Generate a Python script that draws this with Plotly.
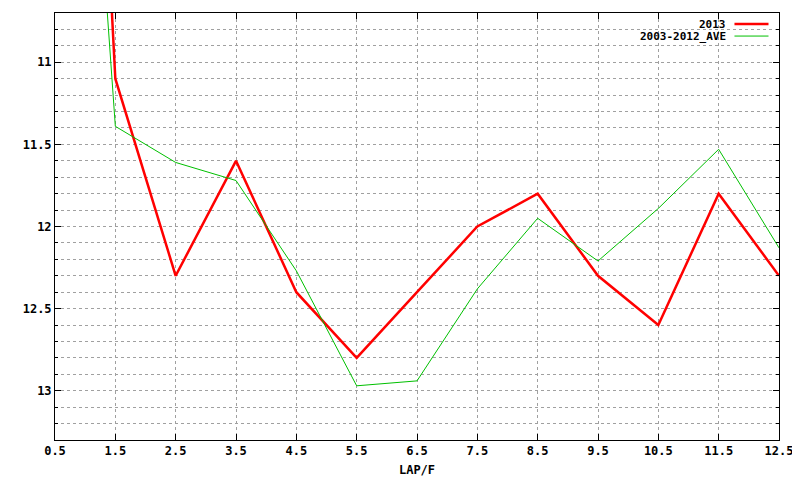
import plotly.graph_objects as go

laps = [0.5, 1.5, 2.5, 3.5, 4.5, 5.5, 6.5, 7.5, 8.5, 9.5, 10.5, 11.5, 12.5]
series_2013 = [4.0, 11.1, 12.3, 11.6, 12.4, 12.8, 12.4, 12.0, 11.8, 12.3, 12.6, 11.8, 12.3]
series_ave = [6.2, 11.39, 11.61, 11.72, 12.27, 12.97, 12.94, 12.38, 11.95, 12.21, 11.89, 11.53, 12.13]
names = ["2013", "2003-2012_AVE"]
colors = ["#ff0000", "#00c000"]
widths = [2.5, 1]
x_ticks = [0.5, 1.5, 2.5, 3.5, 4.5, 5.5, 6.5, 7.5, 8.5, 9.5, 10.5, 11.5, 12.5]
y_ticks = [11, 11.5, 12, 12.5, 13]

FONT = "DejaVu Sans Mono"

fig = go.Figure()
for ys, nm, c, w in zip([series_2013, series_ave], names, colors, widths):
    fig.add_trace(go.Scatter(x=laps, y=ys, mode="lines", name=nm,
                             line=dict(color=c, width=w), showlegend=False))

grid_col = "#a0a0a0"
fig.update_xaxes(range=[0.5, 12.5], tickvals=x_ticks,
                 ticktext=[str(v) for v in x_ticks],
                 showgrid=True, gridcolor=grid_col, griddash="dot", gridwidth=1,
                 ticks="inside", ticklen=6, tickcolor="black",
                 showline=True, linecolor="black", linewidth=1, mirror="ticks",
                 zeroline=False, automargin=False,
                 title=dict(text="LAP/F", standoff=8,
                            font=dict(family=FONT, size=12, color="black", weight="bold")),
                 tickfont=dict(family=FONT, size=12, color="black", weight="bold"))
fig.update_yaxes(range=[13.3, 10.7], tickvals=y_ticks,
                 ticktext=["11", "11.5", "12", "12.5", "13"],
                 showgrid=False,
                 ticks="inside", ticklen=6, tickcolor="black",
                 minor=dict(dtick=0.1, tick0=10.7, showgrid=True, gridcolor=grid_col,
                            griddash="dot", gridwidth=1, ticks="inside", ticklen=3,
                            tickcolor="black"),
                 showline=True, linecolor="black", linewidth=1, mirror="ticks",
                 zeroline=False, automargin=False,
                 tickfont=dict(family=FONT, size=12, color="black", weight="bold"))

# legend drawn gnuplot-style (text right, sample line to the right)
leg_y = [0.974, 0.946]
for nm, c, w, ly in zip(names, colors, widths, leg_y):
    fig.add_annotation(xref="paper", yref="paper", x=0.928, y=ly, text=nm,
                       showarrow=False, xanchor="right", yanchor="middle",
                       borderpad=0,
                       font=dict(family=FONT, size=11, color="black", weight="bold"))
    fig.add_shape(type="line", xref="paper", yref="paper",
                  x0=0.9385, x1=0.9855, y0=ly, y1=ly,
                  line=dict(color=c, width=w))

fig.update_layout(width=792, height=472, plot_bgcolor="white", paper_bgcolor="white",
                  margin=dict(l=47, r=21, t=5, b=40), showlegend=False)
fig.write_html("out.html")
